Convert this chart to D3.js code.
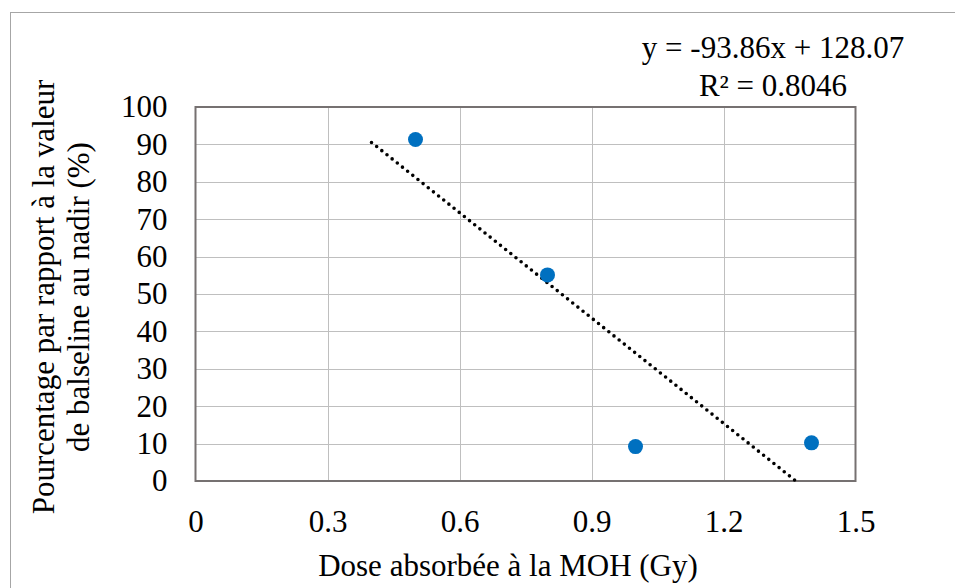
<!DOCTYPE html>
<html><head><meta charset="utf-8">
<script src="https://cdn.jsdelivr.net/npm/d3@7"></script>
<style>body{margin:0;background:#fff}svg{display:block}</style>
</head><body><svg id="c" width="955" height="588"></svg>
<script>
const doseX = [0.5, 0.8, 1.0, 1.4];
const pctY = [91.3, 55.1, 9.2, 10.2];
const xTicks = [0, 0.3, 0.6, 0.9, 1.2, 1.5];
const xTickLabels = ["0", "0.3", "0.6", "0.9", "1.2", "1.5"];
const yTicks = [0,10,20,30,40,50,60,70,80,90,100];
const slope = -93.86, intercept = 128.07;
const trendStart = 0.4;
const eqText = "y = -93.86x + 128.07";
const r2Text = "R² = 0.8046";
const xTitle = "Dose absorbée à la MOH (Gy)";
const yTitle = ["Pourcentage par rapport à la valeur", "de balseline au nadir (%)"];

const FS = 31;
const FF = "'Liberation Serif', 'Times New Roman', serif";
const svg = d3.select("#c");
const L=195.5, R=855.5, T=107, B=481;
const x = d3.scaleLinear().domain([0,1.5]).range([L,R]);
const y = d3.scaleLinear().domain([0,100]).range([B,T]);
function styleText(sel){ return sel.style("font-family",FF).style("font-size",FS+"px").style("fill","#000"); }

// chart border (top & left visible)
svg.append("rect").attr("x",10.5).attr("y",12.5).attr("width",960).attr("height",600)
  .attr("fill","none").attr("stroke","#a6a6a6").attr("stroke-width",1);

// gridlines
svg.append("g").selectAll("line").data(yTicks.slice(1,-1)).join("line")
  .attr("x1",L).attr("x2",R).attr("y1",d=>Math.round(y(d))+0.5).attr("y2",d=>Math.round(y(d))+0.5)
  .attr("stroke","#bfbfbf").attr("stroke-width",1);
svg.append("g").selectAll("line").data(xTicks.slice(1,-1)).join("line")
  .attr("y1",T).attr("y2",B).attr("x1",d=>Math.round(x(d))+0.5).attr("x2",d=>Math.round(x(d))+0.5)
  .attr("stroke","#bfbfbf").attr("stroke-width",1);

// plot border
svg.append("rect").attr("x",L).attr("y",T).attr("width",R-L).attr("height",B-T)
  .attr("fill","none").attr("stroke","#767171").attr("stroke-width",2);

// axes labels via d3 axes (no lines)
const xAxis = svg.append("g").attr("transform",`translate(0,${B})`)
  .call(d3.axisBottom(x).tickValues(xTicks).tickFormat((d,i)=>xTickLabels[i]).tickSize(0).tickPadding(29));
xAxis.select(".domain").remove();
xAxis.attr("font-family",FF).attr("font-size",FS);
styleText(xAxis.selectAll("text"));

const yAxis = svg.append("g").attr("transform",`translate(${L},0)`)
  .call(d3.axisLeft(y).tickValues(yTicks).tickFormat(d3.format("d")).tickSize(0).tickPadding(28));
yAxis.select(".domain").remove();
yAxis.attr("font-family",FF).attr("font-size",FS);
styleText(yAxis.selectAll("text"));

// trendline
const xEnd = Math.min(1.5, -intercept/slope);
svg.append("line")
  .attr("x1",x(trendStart)).attr("y1",y(slope*trendStart+intercept))
  .attr("x2",x(xEnd)).attr("y2",y(slope*xEnd+intercept))
  .attr("stroke","#000").attr("stroke-width",3.6).attr("stroke-linecap","round")
  .attr("stroke-dasharray","0 6.6");

// points
svg.append("g").selectAll("circle").data(doseX).join("circle")
  .attr("cx",d=>x(d)).attr("cy",(d,i)=>y(pctY[i])).attr("r",7.5).attr("fill","#0070c0");

// equation
styleText(svg.append("text").attr("x",773).attr("y",58).attr("text-anchor","middle")).text(eqText);
styleText(svg.append("text").attr("x",773).attr("y",96).attr("text-anchor","middle")).text(r2Text);

// titles
styleText(svg.append("text").attr("x",508).attr("y",576).attr("text-anchor","middle")).text(xTitle);
const yt = styleText(svg.append("text").attr("transform","translate(0,297) rotate(-90)").attr("text-anchor","middle"));
yt.append("tspan").attr("x",0).attr("y",54).text(yTitle[0]);
yt.append("tspan").attr("x",0).attr("y",89).text(yTitle[1]);
</script></body></html>
